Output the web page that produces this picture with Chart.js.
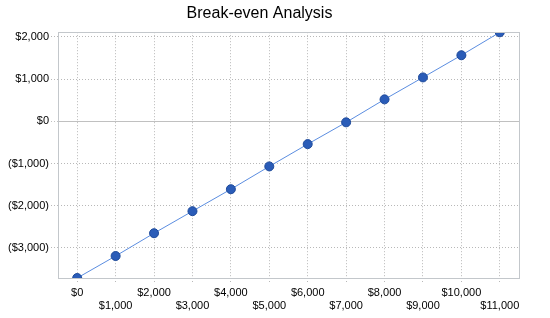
<!DOCTYPE html>
<html>
<head>
<meta charset="utf-8">
<script src="https://cdn.jsdelivr.net/npm/chart.js@4"></script>
<style>
  html, body { margin: 0; padding: 0; background: #fff; }
  #wrap { width: 550px; height: 318px; }
</style>
</head>
<body>
<div id="wrap"><canvas id="chart"></canvas></div>
<script>
// break-even data
const salesLevels = [0, 1000, 2000, 3000, 4000, 5000, 6000, 7000, 8000, 9000, 10000, 11000];
const profitValues = [-3711, -3190, -2650, -2128, -1608, -1068, -540, -24, 520, 1040, 1565, 2108];
const yTicks = [-3000, -2000, -1000, 0, 1000, 2000];
const yMin = -3711;
const yMax = 2111;

function money(v) {
    let s = '$' + Math.abs(v).toLocaleString('en-US');
    return v < 0 ? '(' + s + ')' : s;
}

// alternate x labels on two rows
const xLabels = salesLevels.map((v, i) => i % 2 === 0 ? [money(v)] : ['', money(v)]);

const frame = {
    id: 'frame',
    afterDraw(chart) {
        let a = chart.chartArea;
        let ctx = chart.ctx;
        ctx.save();
        ctx.strokeStyle = '#c3c7cb';
        ctx.lineWidth = 1;
        ctx.strokeRect(Math.round(a.left) + 0.5, Math.round(a.top) + 0.5,
            Math.round(a.right - a.left), Math.round(a.bottom - a.top));
        ctx.restore();
    }
};

Chart.defaults.font.family = '"Liberation Sans", Arial, sans-serif';
Chart.defaults.color = '#000';

let ctx = document.getElementById('chart').getContext('2d');
let chart = new Chart(ctx, {
    type: 'line',
    data: {
        labels: xLabels,
        datasets: [{
            label: 'Break-even',
            data: profitValues,
            borderColor: '#5b8de0',
            borderWidth: 1,
            backgroundColor: '#2a5cb8',
            pointBackgroundColor: '#2a5cb8',
            pointBorderColor: '#1e4a9a',
            pointBorderWidth: 1,
            pointRadius: 4.5,
            tension: 0
        }]
    },
    options: {
        responsive: true,
        maintainAspectRatio: false,
        animation: false,
        layout: { padding: { left: 0, right: 31, top: 0, bottom: 0 } },
        plugins: {
            legend: { display: false },
            tooltip: { enabled: false },
            title: {
                display: true,
                text: 'Break-even Analysis',
                font: { size: 16, weight: 'normal' },
                color: '#000',
                padding: { top: 4, bottom: 9 }
            }
        },
        scales: {
            x: {
                offset: true,
                grid: {
                    offset: false,
                    color: '#b8b8b8',
                    tickLength: 6,
                    tickBorderDash: [1, 2]
                },
                border: { display: false, dash: [1, 2] },
                ticks: {
                    autoSkip: false,
                    maxRotation: 0,
                    font: { size: 11 },
                    padding: 2
                },
                afterFit(scale) { scale.height = 40; }
            },
            y: {
                min: yMin,
                max: yMax,
                afterBuildTicks(scale) {
                    scale.ticks = yTicks.map(v => ({ value: v }));
                },
                grid: {
                    color: ctx => ctx.tick && ctx.tick.value === 0 ? '#c0c0c0' : '#b8b8b8',
                    tickLength: 7,
                    tickBorderDash: [1, 2]
                },
                border: { display: false, dash: ctx => ctx.tick && ctx.tick.value === 0 ? [] : [1, 2] },
                ticks: {
                    font: { size: 11 },
                    padding: 2,
                    callback: v => money(v)
                },
                afterFit(scale) { scale.width = 58; }
            }
        }
    },
    plugins: [frame]
});
</script>
</body>
</html>
